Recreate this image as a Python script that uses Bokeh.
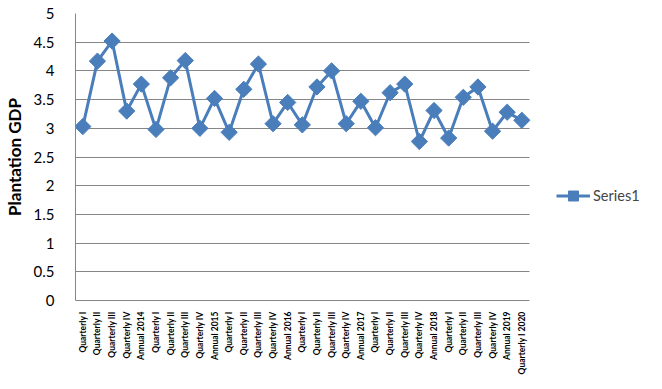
from bokeh.plotting import figure
from bokeh.models import Legend, LegendItem, FixedTicker, CustomJSTickFormatter
from bokeh.embed import file_html
from bokeh.resources import INLINE

categories = [
    "Quarterly I", "Quarterly II", "Quarterly III", "Quarterly IV", "Annual 2014",
    "Quarterly I", "Quarterly II", "Quarterly III", "Quarterly IV", "Annual 2015",
    "Quarterly I", "Quarterly II", "Quarterly III", "Quarterly IV", "Annual 2016",
    "Quarterly I", "Quarterly II", "Quarterly III", "Quarterly IV", "Annual 2017",
    "Quarterly I", "Quarterly II", "Quarterly III", "Quarterly IV", "Annual 2018",
    "Quarterly I", "Quarterly II", "Quarterly III", "Quarterly IV", "Annual 2019",
    "Quarterly I 2020",
]
series1 = [
    3.03, 4.17, 4.52, 3.30, 3.77,
    2.98, 3.88, 4.18, 3.00, 3.52,
    2.93, 3.68, 4.12, 3.08, 3.45,
    3.06, 3.72, 4.00, 3.08, 3.47,
    3.01, 3.62, 3.77, 2.77, 3.31,
    2.83, 3.54, 3.72, 2.95, 3.28,
    3.14,
]
y_ticks = [0, 0.5, 1, 1.5, 2, 2.5, 3, 3.5, 4, 4.5, 5]

xs = list(range(len(categories)))
color = "#4A7EBB"
n = len(categories)
# frame spans past the data to leave room for the legend on the right
extra = 579 / (460 / n) - n

p = figure(width=646, height=378, output_backend="svg", toolbar_location=None,
           x_range=(-0.5, n - 0.5 + extra), y_range=(0, 5),
           min_border_left=67, min_border_right=0, min_border_top=13, min_border_bottom=78)
p.outline_line_color = None

line = p.line(xs, series1, line_color=color, line_width=3)
pts = p.scatter(xs, series1, marker="square", angle=0.785398, size=11.5,
                fill_color=color, line_color=color)

# axes
p.xaxis.ticker = FixedTicker(ticks=xs)
p.xaxis.bounds = (-0.5, n - 0.5)
p.xaxis.major_label_overrides = {i: c for i, c in enumerate(categories)}
p.xaxis.major_label_orientation = 1.5708
p.xaxis.major_label_text_font = "Lato"
p.xaxis.major_label_text_font_style = "bold"
p.xaxis.major_label_text_font_size = "8.5px"
p.xaxis.major_label_text_color = "black"
p.xaxis.major_label_standoff = 5
p.xaxis.major_tick_line_color = None
p.xaxis.minor_tick_line_color = None
p.xaxis.axis_line_color = "#868686"
p.xgrid.grid_line_color = None

p.yaxis.ticker = FixedTicker(ticks=y_ticks)
p.yaxis.formatter = CustomJSTickFormatter(code="return tick.toString();")
p.yaxis.major_label_text_font = "Lato"
p.yaxis.major_label_text_font_size = "15px"
p.yaxis.major_label_text_color = "black"
p.yaxis.major_label_standoff = 15
p.yaxis.major_tick_line_color = None
p.yaxis.minor_tick_line_color = None
p.yaxis.axis_line_color = "#868686"
p.yaxis.axis_label = "Plantation GDP"
p.yaxis.axis_label_text_font = "Lato"
p.yaxis.axis_label_text_font_style = "bold"
p.yaxis.axis_label_text_font_size = "17px"
p.yaxis.axis_label_text_color = "black"
p.yaxis.axis_label_standoff = 6
p.ygrid.grid_line_color = "#868686"
p.ygrid.grid_line_width = 1
p.ygrid.cross_bounds = (-0.5, n - 0.5)

legend = Legend(items=[LegendItem(label="Series1", renderers=[line, pts])],
                location=(481, 92), border_line_color=None, background_fill_alpha=0,
                label_text_font="Lato", label_text_font_size="14.5px",
                glyph_width=34, glyph_height=25, padding=2, label_standoff=3, margin=0)
p.add_layout(legend)

open("out.html", "w").write(file_html(p, INLINE))
